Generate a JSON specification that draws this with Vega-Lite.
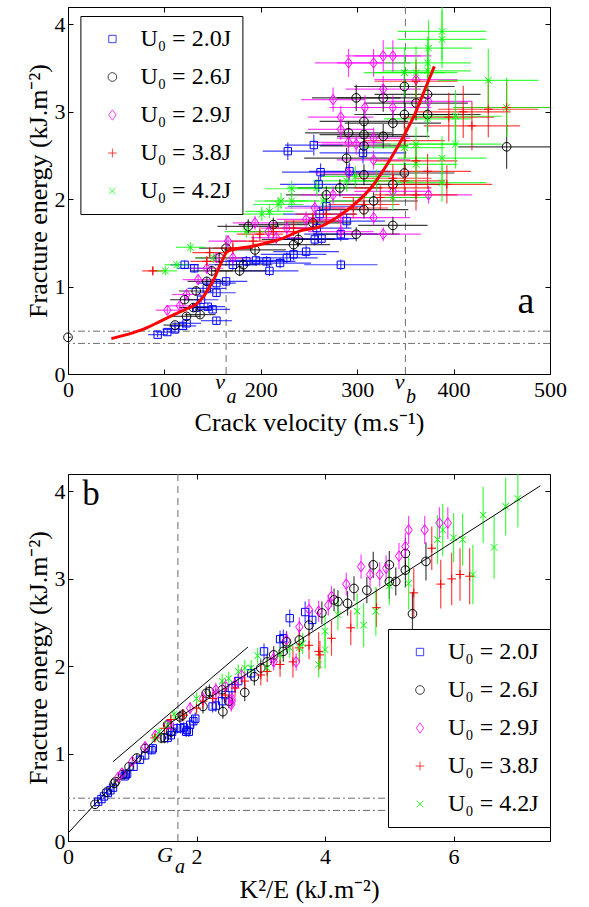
{
  "$schema": "https://vega.github.io/schema/vega-lite/v6.json",
  "background": "white",
  "padding": {"left": 24, "top": 6, "right": 5, "bottom": 2},
  "spacing": 37,
  "datasets": {
    "pts": [
      {"s":"2.0","v":93,"k":0.47,"g":0.45,"ev":10,"eg":0.03},
      {"s":"2.0","v":103,"k":0.52,"g":0.48,"ev":12,"eg":0.03},
      {"s":"2.0","v":111,"k":0.56,"g":0.51,"ev":13,"eg":0.03},
      {"s":"2.0","v":119,"k":0.62,"g":0.55,"ev":14,"eg":0.03},
      {"s":"2.0","v":123,"k":0.66,"g":0.58,"ev":15,"eg":0.04},
      {"s":"2.0","v":154,"k":0.70,"g":0.61,"ev":16,"eg":0.04},
      {"s":"2.0","v":133,"k":0.90,"g":0.76,"ev":16,"eg":0.04},
      {"s":"2.0","v":145,"k":0.92,"g":0.77,"ev":18,"eg":0.04},
      {"s":"2.0","v":150,"k":0.88,"g":0.74,"ev":18,"eg":0.04},
      {"s":"2.0","v":138,"k":1.02,"g":0.85,"ev":18,"eg":0.05},
      {"s":"2.0","v":154,"k":1.12,"g":0.93,"ev":20,"eg":0.05},
      {"s":"2.0","v":144,"k":1.20,"g":0.98,"ev":20,"eg":0.05},
      {"s":"2.0","v":164,"k":1.32,"g":1.06,"ev":22,"eg":0.05},
      {"s":"2.0","v":154,"k":1.30,"g":1.04,"ev":20,"eg":0.05},
      {"s":"2.0","v":121,"k":1.62,"g":1.25,"ev":15,"eg":0.05},
      {"s":"2.0","v":131,"k":1.60,"g":1.21,"ev":18,"eg":0.05},
      {"s":"2.0","v":171,"k":1.84,"g":1.25,"ev":25,"eg":0.06},
      {"s":"2.0","v":185,"k":1.75,"g":1.29,"ev":28,"eg":0.06},
      {"s":"2.0","v":195,"k":1.80,"g":1.30,"ev":30,"eg":0.06},
      {"s":"2.0","v":206,"k":1.70,"g":1.29,"ev":30,"eg":0.06},
      {"s":"2.0","v":209,"k":1.55,"g":1.18,"ev":30,"eg":0.06},
      {"s":"2.0","v":220,"k":1.85,"g":1.27,"ev":32,"eg":0.06},
      {"s":"2.0","v":227,"k":1.90,"g":1.33,"ev":32,"eg":0.06},
      {"s":"2.0","v":234,"k":1.95,"g":1.37,"ev":34,"eg":0.07},
      {"s":"2.0","v":247,"k":1.98,"g":1.40,"ev":34,"eg":0.07},
      {"s":"2.0","v":256,"k":2.25,"g":1.54,"ev":35,"eg":0.07},
      {"s":"2.0","v":263,"k":2.30,"g":1.55,"ev":36,"eg":0.07},
      {"s":"2.0","v":258,"k":2.45,"g":1.67,"ev":36,"eg":0.08},
      {"s":"2.0","v":283,"k":1.88,"g":1.25,"ev":38,"eg":0.06},
      {"s":"2.0","v":283,"k":2.40,"g":1.60,"ev":38,"eg":0.08},
      {"s":"2.0","v":289,"k":2.55,"g":1.75,"ev":40,"eg":0.08},
      {"s":"2.0","v":261,"k":2.65,"g":1.83,"ev":38,"eg":0.08},
      {"s":"2.0","v":268,"k":2.85,"g":1.92,"ev":40,"eg":0.09},
      {"s":"2.0","v":262,"k":3.30,"g":2.31,"ev":40,"eg":0.10},
      {"s":"2.0","v":228,"k":3.45,"g":2.55,"ev":26,"eg":0.10},
      {"s":"2.0","v":255,"k":3.69,"g":2.62,"ev":30,"eg":0.12},
      {"s":"2.0","v":306,"k":3.80,"g":2.53,"ev":45,"eg":0.12},
      {"s":"2.0","v":292,"k":3.35,"g":2.32,"ev":42,"eg":0.10},
      {"s":"2.0","v":260,"k":3.05,"g":2.17,"ev":40,"eg":0.09},
      {"s":"2.6","v":0,"k":0.42,"g":0.42,"ev":3,"eg":0.03},
      {"s":"2.6","v":111,"k":0.60,"g":0.56,"ev":12,"eg":0.03},
      {"s":"2.6","v":123,"k":0.72,"g":0.66,"ev":14,"eg":0.04},
      {"s":"2.6","v":137,"k":0.74,"g":0.68,"ev":16,"eg":0.04},
      {"s":"2.6","v":130,"k":0.85,"g":0.76,"ev":15,"eg":0.04},
      {"s":"2.6","v":121,"k":0.95,"g":0.85,"ev":15,"eg":0.05},
      {"s":"2.6","v":133,"k":1.07,"g":0.95,"ev":18,"eg":0.05},
      {"s":"2.6","v":144,"k":1.20,"g":1.06,"ev":20,"eg":0.05},
      {"s":"2.6","v":149,"k":1.45,"g":1.18,"ev":22,"eg":0.06},
      {"s":"2.6","v":157,"k":1.55,"g":1.33,"ev":25,"eg":0.06},
      {"s":"2.6","v":164,"k":1.78,"g":1.44,"ev":28,"eg":0.07},
      {"s":"2.6","v":178,"k":1.50,"g":1.18,"ev":28,"eg":0.06},
      {"s":"2.6","v":182,"k":1.60,"g":1.25,"ev":30,"eg":0.06},
      {"s":"2.6","v":194,"k":1.74,"g":1.42,"ev":32,"eg":0.07},
      {"s":"2.6","v":187,"k":2.15,"g":1.69,"ev":32,"eg":0.08},
      {"s":"2.6","v":213,"k":2.20,"g":1.71,"ev":36,"eg":0.08},
      {"s":"2.6","v":234,"k":2.41,"g":1.48,"ev":38,"eg":0.08},
      {"s":"2.6","v":239,"k":2.10,"g":1.54,"ev":38,"eg":0.08},
      {"s":"2.6","v":254,"k":2.40,"g":1.73,"ev":40,"eg":0.09},
      {"s":"2.6","v":268,"k":3.10,"g":2.05,"ev":42,"eg":0.10},
      {"s":"2.6","v":282,"k":3.20,"g":2.13,"ev":44,"eg":0.10},
      {"s":"2.6","v":289,"k":3.75,"g":2.47,"ev":44,"eg":0.12},
      {"s":"2.6","v":291,"k":4.14,"g":2.76,"ev":45,"eg":0.13},
      {"s":"2.6","v":299,"k":2.50,"g":1.60,"ev":45,"eg":0.08},
      {"s":"2.6","v":299,"k":4.75,"g":3.16,"ev":46,"eg":0.15},
      {"s":"2.6","v":307,"k":4.45,"g":2.89,"ev":46,"eg":0.14},
      {"s":"2.6","v":307,"k":4.20,"g":2.74,"ev":46,"eg":0.13},
      {"s":"2.6","v":307,"k":3.95,"g":2.61,"ev":46,"eg":0.13},
      {"s":"2.6","v":307,"k":3.40,"g":2.28,"ev":46,"eg":0.12},
      {"s":"2.6","v":307,"k":2.90,"g":1.88,"ev":46,"eg":0.10},
      {"s":"2.6","v":327,"k":4.35,"g":2.72,"ev":48,"eg":0.14},
      {"s":"2.6","v":327,"k":5.00,"g":3.16,"ev":48,"eg":0.16},
      {"s":"2.6","v":337,"k":4.65,"g":2.87,"ev":50,"eg":0.15},
      {"s":"2.6","v":337,"k":3.35,"g":2.17,"ev":50,"eg":0.12},
      {"s":"2.6","v":337,"k":2.75,"g":1.70,"ev":36,"eg":0.10},
      {"s":"2.6","v":349,"k":5.25,"g":3.29,"ev":52,"eg":0.18},
      {"s":"2.6","v":349,"k":5.10,"g":2.97,"ev":52,"eg":0.16},
      {"s":"2.6","v":349,"k":3.60,"g":2.30,"ev":52,"eg":0.12},
      {"s":"2.6","v":361,"k":5.25,"g":3.10,"ev":54,"eg":0.20},
      {"s":"2.6","v":373,"k":5.57,"g":3.20,"ev":55,"eg":0.22},
      {"s":"2.6","v":373,"k":5.00,"g":2.97,"ev":55,"eg":0.20},
      {"s":"2.6","v":455,"k":5.36,"g":2.60,"ev":50,"eg":0.25},
      {"s":"2.6","v":317,"k":3.00,"g":1.98,"ev":46,"eg":0.10},
      {"s":"2.9","v":103,"k":0.78,"g":0.73,"ev":12,"eg":0.05},
      {"s":"2.9","v":116,"k":0.84,"g":0.78,"ev":14,"eg":0.05},
      {"s":"2.9","v":123,"k":1.00,"g":0.91,"ev":15,"eg":0.05},
      {"s":"2.9","v":135,"k":1.20,"g":1.08,"ev":16,"eg":0.06},
      {"s":"2.9","v":144,"k":1.36,"g":1.21,"ev":17,"eg":0.06},
      {"s":"2.9","v":154,"k":1.55,"g":1.33,"ev":18,"eg":0.06},
      {"s":"2.9","v":166,"k":1.90,"g":1.52,"ev":20,"eg":0.07},
      {"s":"2.9","v":171,"k":1.60,"g":1.33,"ev":20,"eg":0.06},
      {"s":"2.9","v":194,"k":2.30,"g":1.73,"ev":23,"eg":0.08},
      {"s":"2.9","v":208,"k":2.10,"g":1.63,"ev":25,"eg":0.08},
      {"s":"2.9","v":216,"k":2.54,"g":1.56,"ev":26,"eg":0.08},
      {"s":"2.9","v":227,"k":2.30,"g":1.67,"ev":27,"eg":0.08},
      {"s":"2.9","v":247,"k":2.45,"g":1.77,"ev":30,"eg":0.09},
      {"s":"2.9","v":256,"k":2.70,"g":1.90,"ev":31,"eg":0.09},
      {"s":"2.9","v":275,"k":3.55,"g":2.05,"ev":33,"eg":0.10},
      {"s":"2.9","v":283,"k":2.60,"g":1.79,"ev":34,"eg":0.09},
      {"s":"2.9","v":283,"k":2.55,"g":1.63,"ev":34,"eg":0.08},
      {"s":"2.9","v":291,"k":3.40,"g":2.30,"ev":35,"eg":0.10},
      {"s":"2.9","v":291,"k":3.75,"g":2.65,"ev":35,"eg":0.12},
      {"s":"2.9","v":299,"k":3.90,"g":2.63,"ev":36,"eg":0.12},
      {"s":"2.9","v":283,"k":4.10,"g":2.80,"ev":34,"eg":0.12},
      {"s":"2.9","v":283,"k":4.33,"g":2.94,"ev":34,"eg":0.13},
      {"s":"2.9","v":275,"k":4.56,"g":3.14,"ev":33,"eg":0.14},
      {"s":"2.9","v":291,"k":5.55,"g":3.56,"ev":35,"eg":0.16},
      {"s":"2.9","v":317,"k":5.30,"g":3.56,"ev":38,"eg":0.16},
      {"s":"2.9","v":327,"k":5.78,"g":3.64,"ev":39,"eg":0.18},
      {"s":"2.9","v":337,"k":5.91,"g":3.64,"ev":40,"eg":0.18},
      {"s":"2.9","v":308,"k":4.70,"g":3.05,"ev":37,"eg":0.14},
      {"s":"2.9","v":317,"k":4.05,"g":2.70,"ev":38,"eg":0.12},
      {"s":"2.9","v":317,"k":3.60,"g":2.45,"ev":38,"eg":0.11},
      {"s":"2.9","v":327,"k":5.15,"g":3.26,"ev":39,"eg":0.15},
      {"s":"2.9","v":327,"k":2.55,"g":1.60,"ev":39,"eg":0.08},
      {"s":"2.9","v":317,"k":2.60,"g":1.79,"ev":38,"eg":0.09},
      {"s":"2.9","v":337,"k":4.85,"g":3.05,"ev":40,"eg":0.14},
      {"s":"2.9","v":337,"k":3.20,"g":2.09,"ev":40,"eg":0.10},
      {"s":"2.9","v":361,"k":5.25,"g":3.37,"ev":43,"eg":0.16},
      {"s":"2.9","v":374,"k":4.95,"g":3.12,"ev":45,"eg":0.15},
      {"s":"2.9","v":374,"k":3.20,"g":2.05,"ev":45,"eg":0.10},
      {"s":"3.8","v":88,"k":1.35,"g":1.18,"ev":11,"eg":0.05},
      {"s":"3.8","v":144,"k":1.50,"g":1.29,"ev":17,"eg":0.06},
      {"s":"3.8","v":147,"k":1.60,"g":1.39,"ev":18,"eg":0.06},
      {"s":"3.8","v":171,"k":1.80,"g":1.44,"ev":20,"eg":0.07},
      {"s":"3.8","v":192,"k":2.00,"g":1.52,"ev":23,"eg":0.07},
      {"s":"3.8","v":199,"k":2.10,"g":1.60,"ev":24,"eg":0.08},
      {"s":"3.8","v":213,"k":2.25,"g":1.63,"ev":26,"eg":0.08},
      {"s":"3.8","v":234,"k":2.45,"g":1.67,"ev":28,"eg":0.09},
      {"s":"3.8","v":254,"k":2.60,"g":1.75,"ev":30,"eg":0.10},
      {"s":"3.8","v":268,"k":2.75,"g":1.83,"ev":32,"eg":0.10},
      {"s":"3.8","v":296,"k":3.00,"g":1.90,"ev":36,"eg":0.12},
      {"s":"3.8","v":307,"k":3.10,"g":1.94,"ev":37,"eg":0.12},
      {"s":"3.8","v":324,"k":3.30,"g":2.02,"ev":39,"eg":0.14},
      {"s":"3.8","v":337,"k":3.75,"g":2.24,"ev":40,"eg":0.16},
      {"s":"3.8","v":337,"k":3.92,"g":2.13,"ev":40,"eg":0.16},
      {"s":"3.8","v":349,"k":3.60,"g":2.21,"ev":42,"eg":0.17},
      {"s":"3.8","v":361,"k":4.40,"g":2.44,"ev":43,"eg":0.20},
      {"s":"3.8","v":361,"k":3.50,"g":2.05,"ev":43,"eg":0.18},
      {"s":"3.8","v":373,"k":4.10,"g":2.32,"ev":45,"eg":0.20},
      {"s":"3.8","v":393,"k":3.90,"g":2.17,"ev":47,"eg":0.22},
      {"s":"3.8","v":419,"k":5.38,"g":2.84,"ev":50,"eg":0.28},
      {"s":"3.8","v":436,"k":6.25,"g":3.03,"ev":52,"eg":0.32},
      {"s":"3.8","v":455,"k":6.10,"g":3.05,"ev":55,"eg":0.30},
      {"s":"3.8","v":361,"k":5.66,"g":3.35,"ev":43,"eg":0.25},
      {"s":"3.8","v":349,"k":4.80,"g":2.67,"ev":42,"eg":0.22},
      {"s":"3.8","v":395,"k":5.80,"g":2.94,"ev":47,"eg":0.28},
      {"s":"3.8","v":410,"k":5.97,"g":3.00,"ev":49,"eg":0.30},
      {"s":"4.2","v":101,"k":1.35,"g":1.18,"ev":12,"eg":0.05},
      {"s":"4.2","v":113,"k":1.42,"g":1.25,"ev":13,"eg":0.05},
      {"s":"4.2","v":127,"k":1.65,"g":1.45,"ev":15,"eg":0.06},
      {"s":"4.2","v":151,"k":1.55,"g":1.33,"ev":18,"eg":0.06},
      {"s":"4.2","v":185,"k":2.00,"g":1.63,"ev":22,"eg":0.07},
      {"s":"4.2","v":201,"k":2.40,"g":1.83,"ev":24,"eg":0.08},
      {"s":"4.2","v":209,"k":2.50,"g":1.86,"ev":25,"eg":0.08},
      {"s":"4.2","v":218,"k":2.65,"g":1.94,"ev":26,"eg":0.08},
      {"s":"4.2","v":221,"k":2.75,"g":1.98,"ev":27,"eg":0.09},
      {"s":"4.2","v":232,"k":2.95,"g":2.12,"ev":28,"eg":0.09},
      {"s":"4.2","v":232,"k":2.85,"g":1.98,"ev":28,"eg":0.09},
      {"s":"4.2","v":258,"k":3.30,"g":2.13,"ev":31,"eg":0.10},
      {"s":"4.2","v":265,"k":3.10,"g":1.98,"ev":32,"eg":0.10},
      {"s":"4.2","v":289,"k":3.45,"g":2.21,"ev":35,"eg":0.12},
      {"s":"4.2","v":298,"k":3.65,"g":2.26,"ev":36,"eg":0.12},
      {"s":"4.2","v":320,"k":3.60,"g":2.21,"ev":38,"eg":0.13},
      {"s":"4.2","v":337,"k":3.90,"g":2.02,"ev":40,"eg":0.15},
      {"s":"4.2","v":349,"k":4.20,"g":2.59,"ev":42,"eg":0.18},
      {"s":"4.2","v":361,"k":4.00,"g":2.40,"ev":43,"eg":0.18},
      {"s":"4.2","v":361,"k":4.50,"g":2.63,"ev":43,"eg":0.20},
      {"s":"4.2","v":373,"k":5.00,"g":2.92,"ev":45,"eg":0.22},
      {"s":"4.2","v":373,"k":6.00,"g":3.47,"ev":45,"eg":0.28},
      {"s":"4.2","v":373,"k":5.83,"g":3.56,"ev":45,"eg":0.30},
      {"s":"4.2","v":374,"k":6.46,"g":3.73,"ev":45,"eg":0.32},
      {"s":"4.2","v":388,"k":6.81,"g":3.83,"ev":46,"eg":0.33},
      {"s":"4.2","v":388,"k":7.00,"g":3.92,"ev":46,"eg":0.33},
      {"s":"4.2","v":349,"k":5.75,"g":3.45,"ev":42,"eg":0.28},
      {"s":"4.2","v":361,"k":6.14,"g":3.45,"ev":43,"eg":0.30},
      {"s":"4.2","v":402,"k":5.30,"g":2.95,"ev":48,"eg":0.30},
      {"s":"4.2","v":402,"k":4.79,"g":2.63,"ev":48,"eg":0.28},
      {"s":"4.2","v":388,"k":4.60,"g":2.47,"ev":46,"eg":0.25},
      {"s":"4.2","v":388,"k":4.00,"g":2.19,"ev":46,"eg":0.22},
      {"s":"4.2","v":436,"k":6.63,"g":3.36,"ev":52,"eg":0.36},
      {"s":"4.2","v":455,"k":6.30,"g":3.05,"ev":55,"eg":0.34}
    ],
    "curve": [
      {"v":45,"g":0.405},{"v":67,"g":0.47},{"v":82,"g":0.53},{"v":95,"g":0.60},
      {"v":110,"g":0.68},{"v":122,"g":0.74},{"v":133,"g":0.80},{"v":140,"g":0.88},
      {"v":147,"g":1.0},{"v":152,"g":1.1},{"v":157,"g":1.23},{"v":161,"g":1.32},
      {"v":164,"g":1.39},{"v":171,"g":1.425},{"v":190,"g":1.46},{"v":206,"g":1.50},
      {"v":222,"g":1.55},{"v":240,"g":1.635},{"v":260,"g":1.68},{"v":280,"g":1.80},
      {"v":300,"g":1.97},{"v":315,"g":2.14},{"v":330,"g":2.38},{"v":342,"g":2.60},
      {"v":351,"g":2.78},{"v":360,"g":2.98},{"v":370,"g":3.25},{"v":380,"g":3.52}
    ],
    "fit": [
      {"id":"m","k":0,"g":0.09},{"id":"m","k":1.6,"g":1.355},{"id":"m","k":7.35,"g":4.065},
      {"id":"t","k":0.7,"g":0.907},{"id":"t","k":2.8,"g":2.22}
    ]
  },
  "resolve": {
    "scale": {"color": "independent", "shape": "independent"},
    "legend": {"color": "independent", "shape": "independent"}
  },
  "vconcat": [
    {
      "width": 482,
      "height": 367,
      "resolve": {"axis": {"x": "independent", "y": "independent"}},
      "layer": [
        {
          "data": {"values": [{}]},
          "mark": {"type": "point", "opacity": 0},
          "encoding": {
            "x": {"datum": 0, "type": "quantitative", "scale": {"domain": [0, 500], "nice": false, "zero": false},
              "axis": {"orient": "bottom", "values": [0, 100, 200, 300, 400, 500], "title": "Crack velocity (m.s⁻¹)", "titlePadding": 9, "labelFont": "Liberation Serif", "titleFont": "Liberation Serif"}},
            "y": {"datum": 0, "type": "quantitative", "scale": {"domain": [0, 4.2], "nice": false, "zero": false},
              "axis": {"orient": "left", "values": [0, 1, 2, 3, 4], "title": "Fracture energy (kJ.m⁻²)", "labelPadding": 8, "titlePadding": 3, "labelFont": "Liberation Serif", "titleFont": "Liberation Serif"}}
          }
        },
        {
          "data": {"values": [{}]},
          "mark": {"type": "point", "opacity": 0},
          "encoding": {
            "x": {"datum": 0, "type": "quantitative", "scale": {"domain": [0, 500], "nice": false, "zero": false},
              "axis": {"orient": "top", "values": [0, 100, 200, 300, 400, 500], "labels": false, "title": null}},
            "y": {"datum": 0, "type": "quantitative", "scale": {"domain": [0, 4.2], "nice": false, "zero": false},
              "axis": {"orient": "right", "values": [0, 1, 2, 3, 4], "labels": false, "title": null}}
          }
        },
        {
          "data": {"values": [{"g": 0.49}, {"g": 0.35}]},
          "mark": {"type": "rule", "color": "#6e6e6e", "strokeWidth": 1, "strokeDash": [7, 3, 2, 3]},
          "encoding": {"y": {"field": "g", "type": "quantitative", "scale": {"domain": [0, 4.2], "nice": false, "zero": false}, "axis": null}}
        },
        {
          "data": {"values": [{"v": 350}]},
          "mark": {"type": "rule", "color": "#6e6e6e", "strokeWidth": 1, "strokeDash": [7, 5]},
          "encoding": {"x": {"field": "v", "type": "quantitative", "scale": {"domain": [0, 500], "nice": false, "zero": false}, "axis": null}}
        },
        {
          "data": {"values": [{"v": 164, "g0": 0, "g1": 1.72}]},
          "mark": {"type": "rule", "color": "#6e6e6e", "strokeWidth": 1, "strokeDash": [7, 5]},
          "encoding": {
            "x": {"field": "v", "type": "quantitative", "scale": {"domain": [0, 500], "nice": false, "zero": false}, "axis": null},
            "y": {"field": "g0", "type": "quantitative", "scale": {"domain": [0, 4.2], "nice": false, "zero": false}, "axis": null},
            "y2": {"field": "g1"}
          }
        },
        {
          "data": {"name": "pts"},
          "mark": {"type": "errorbar", "ticks": false, "clip": true, "rule": {"strokeWidth": 1.2, "opacity": 0.75}},
          "encoding": {
            "x": {"field": "v", "type": "quantitative", "scale": {"domain": [0, 500], "nice": false, "zero": false}, "axis": null},
            "xError": {"field": "ev"},
            "y": {"field": "g", "type": "quantitative", "scale": {"domain": [0, 4.2], "nice": false, "zero": false}, "axis": null},
            "color": {"field": "s", "type": "nominal", "scale": {"domain": ["2.0", "2.6", "2.9", "3.8", "4.2"], "range": ["#0000ff", "#000000", "#ff00ff", "#ff0000", "#00ff00"]}}
          }
        },
        {
          "data": {"name": "pts"},
          "mark": {"type": "errorbar", "ticks": false, "clip": true, "rule": {"strokeWidth": 1.2, "opacity": 0.75}},
          "encoding": {
            "y": {"field": "g", "type": "quantitative", "scale": {"domain": [0, 4.2], "nice": false, "zero": false}, "axis": null},
            "yError": {"field": "eg"},
            "x": {"field": "v", "type": "quantitative", "scale": {"domain": [0, 500], "nice": false, "zero": false}, "axis": null},
            "color": {"field": "s", "type": "nominal", "scale": {"domain": ["2.0", "2.6", "2.9", "3.8", "4.2"], "range": ["#0000ff", "#000000", "#ff00ff", "#ff0000", "#00ff00"]}}
          }
        },
        {
          "data": {"name": "pts"},
          "mark": {"type": "point", "filled": false, "size": 75, "strokeWidth": 1, "opacity": 1},
          "encoding": {
            "x": {"field": "v", "type": "quantitative", "scale": {"domain": [0, 500], "nice": false, "zero": false}, "axis": null},
            "y": {"field": "g", "type": "quantitative", "scale": {"domain": [0, 4.2], "nice": false, "zero": false}, "axis": null},
            "color": {"field": "s", "type": "nominal", "scale": {"domain": ["2.0", "2.6", "2.9", "3.8", "4.2"], "range": ["#0000ff", "#000000", "#ff00ff", "#ff0000", "#00ff00"]},
              "legend": {"title": null, "orient": "none", "legendX": 12.4, "legendY": 9, "direction": "vertical", "labelExpr": "'U₀ = ' + datum.label + 'J'"}},
            "shape": {"field": "s", "type": "nominal", "scale": {"domain": ["2.0", "2.6", "2.9", "3.8", "4.2"], "range": ["M-0.85,-0.85H0.85V0.85H-0.85Z", "circle", "M0,-1.2L0.85,0L0,1.2L-0.85,0Z", "M-1,0H1M0,-1V1", "M-0.75,-0.75L0.75,0.75M-0.75,0.75L0.75,-0.75"]},
              "legend": {"title": null, "orient": "none", "legendX": 12.4, "legendY": 9, "direction": "vertical", "labelExpr": "'U₀ = ' + datum.label + 'J'"}}
          }
        },
        {
          "data": {"name": "curve"},
          "mark": {"type": "line", "color": "#ff0000", "strokeWidth": 3, "interpolate": "monotone"},
          "encoding": {
            "x": {"field": "v", "type": "quantitative", "scale": {"domain": [0, 500], "nice": false, "zero": false}, "axis": null},
            "y": {"field": "g", "type": "quantitative", "scale": {"domain": [0, 4.2], "nice": false, "zero": false}, "axis": null}
          }
        },
        {
          "data": {"values": [{"v": 164, "t": "v"}, {"v": 350, "t": "v"}]},
          "mark": {"type": "text", "font": "Liberation Serif", "fontStyle": "italic", "fontSize": 22, "align": "right", "baseline": "alphabetic", "dx": -1, "dy": 14.5, "color": "black"},
          "encoding": {
            "x": {"field": "v", "type": "quantitative", "scale": {"domain": [0, 500], "nice": false, "zero": false}, "axis": null},
            "y": {"datum": 0, "type": "quantitative", "scale": {"domain": [0, 4.2], "nice": false, "zero": false}, "axis": null},
            "text": {"field": "t"}
          }
        },
        {
          "data": {"values": [{"v": 164, "t": "a"}, {"v": 350, "t": "b"}]},
          "mark": {"type": "text", "font": "Liberation Serif", "fontStyle": "italic", "fontSize": 20, "align": "left", "baseline": "alphabetic", "dx": 0.5, "dy": 29, "color": "black"},
          "encoding": {
            "x": {"field": "v", "type": "quantitative", "scale": {"domain": [0, 500], "nice": false, "zero": false}, "axis": null},
            "y": {"datum": 0, "type": "quantitative", "scale": {"domain": [0, 4.2], "nice": false, "zero": false}, "axis": null},
            "text": {"field": "t"}
          }
        },
        {
          "data": {"values": [{"v": 475, "g": 0.695, "t": "a"}]},
          "mark": {"type": "text", "font": "Liberation Serif", "fontSize": 38, "align": "center", "baseline": "alphabetic", "color": "black"},
          "encoding": {
            "x": {"field": "v", "type": "quantitative", "scale": {"domain": [0, 500], "nice": false, "zero": false}, "axis": null},
            "y": {"field": "g", "type": "quantitative", "scale": {"domain": [0, 4.2], "nice": false, "zero": false}, "axis": null},
            "text": {"field": "t"}
          }
        }
      ]
    },
    {
      "width": 482,
      "height": 367,
      "resolve": {"axis": {"x": "independent", "y": "independent"}},
      "layer": [
        {
          "data": {"values": [{}]},
          "mark": {"type": "point", "opacity": 0},
          "encoding": {
            "x": {"datum": 0, "type": "quantitative", "scale": {"domain": [0, 7.5], "nice": false, "zero": false},
              "axis": {"orient": "bottom", "values": [0, 2, 4, 6], "title": "K²/E (kJ.m⁻²)", "titlePadding": 9, "labelFont": "Liberation Serif", "titleFont": "Liberation Serif"}},
            "y": {"datum": 0, "type": "quantitative", "scale": {"domain": [0, 4.2], "nice": false, "zero": false},
              "axis": {"orient": "left", "values": [0, 1, 2, 3, 4], "title": "Fracture energy (kJ.m⁻²)", "labelPadding": 8, "titlePadding": 3, "labelFont": "Liberation Serif", "titleFont": "Liberation Serif"}}
          }
        },
        {
          "data": {"values": [{}]},
          "mark": {"type": "point", "opacity": 0},
          "encoding": {
            "x": {"datum": 0, "type": "quantitative", "scale": {"domain": [0, 7.5], "nice": false, "zero": false},
              "axis": {"orient": "top", "values": [0, 2, 4, 6], "labels": false, "title": null}},
            "y": {"datum": 0, "type": "quantitative", "scale": {"domain": [0, 4.2], "nice": false, "zero": false},
              "axis": {"orient": "right", "values": [0, 1, 2, 3, 4], "labels": false, "title": null}}
          }
        },
        {
          "data": {"values": [{"g": 0.49}, {"g": 0.35}]},
          "mark": {"type": "rule", "color": "#6e6e6e", "strokeWidth": 1, "strokeDash": [7, 3, 2, 3]},
          "encoding": {"y": {"field": "g", "type": "quantitative", "scale": {"domain": [0, 4.2], "nice": false, "zero": false}, "axis": null}}
        },
        {
          "data": {"values": [{"k": 1.71}]},
          "mark": {"type": "rule", "color": "#6e6e6e", "strokeWidth": 1, "strokeDash": [7, 5]},
          "encoding": {"x": {"field": "k", "type": "quantitative", "scale": {"domain": [0, 7.5], "nice": false, "zero": false}, "axis": null}}
        },
        {
          "data": {"name": "pts"},
          "mark": {"type": "errorbar", "ticks": false, "clip": true, "rule": {"strokeWidth": 1.2, "opacity": 0.75}},
          "encoding": {
            "y": {"field": "g", "type": "quantitative", "scale": {"domain": [0, 4.2], "nice": false, "zero": false}, "axis": null},
            "yError": {"field": "eg"},
            "x": {"field": "k", "type": "quantitative", "scale": {"domain": [0, 7.5], "nice": false, "zero": false}, "axis": null},
            "color": {"field": "s", "type": "nominal", "scale": {"domain": ["2.0", "2.6", "2.9", "3.8", "4.2"], "range": ["#0000ff", "#000000", "#ff00ff", "#ff0000", "#00ff00"]}}
          }
        },
        {
          "data": {"name": "pts"},
          "mark": {"type": "point", "filled": false, "size": 75, "strokeWidth": 1, "opacity": 1},
          "encoding": {
            "x": {"field": "k", "type": "quantitative", "scale": {"domain": [0, 7.5], "nice": false, "zero": false}, "axis": null},
            "y": {"field": "g", "type": "quantitative", "scale": {"domain": [0, 4.2], "nice": false, "zero": false}, "axis": null},
            "color": {"field": "s", "type": "nominal", "scale": {"domain": ["2.0", "2.6", "2.9", "3.8", "4.2"], "range": ["#0000ff", "#000000", "#ff00ff", "#ff0000", "#00ff00"]},
              "legend": {"title": null, "orient": "none", "legendX": 320, "legendY": 155, "direction": "vertical", "labelExpr": "'U₀ = ' + datum.label + 'J'"}},
            "shape": {"field": "s", "type": "nominal", "scale": {"domain": ["2.0", "2.6", "2.9", "3.8", "4.2"], "range": ["M-0.85,-0.85H0.85V0.85H-0.85Z", "circle", "M0,-1.2L0.85,0L0,1.2L-0.85,0Z", "M-1,0H1M0,-1V1", "M-0.75,-0.75L0.75,0.75M-0.75,0.75L0.75,-0.75"]},
              "legend": {"title": null, "orient": "none", "legendX": 320, "legendY": 155, "direction": "vertical", "labelExpr": "'U₀ = ' + datum.label + 'J'"}}
          }
        },
        {
          "data": {"name": "fit"},
          "mark": {"type": "line", "color": "black", "strokeWidth": 1},
          "encoding": {
            "x": {"field": "k", "type": "quantitative", "scale": {"domain": [0, 7.5], "nice": false, "zero": false}, "axis": null},
            "y": {"field": "g", "type": "quantitative", "scale": {"domain": [0, 4.2], "nice": false, "zero": false}, "axis": null},
            "detail": {"field": "id"}
          }
        },
        {
          "data": {"values": [{"k": 1.71, "t": "G"}]},
          "mark": {"type": "text", "font": "Liberation Serif", "fontStyle": "italic", "fontSize": 22, "align": "right", "baseline": "alphabetic", "dx": -5, "dy": 20.5, "color": "black"},
          "encoding": {
            "x": {"field": "k", "type": "quantitative", "scale": {"domain": [0, 7.5], "nice": false, "zero": false}, "axis": null},
            "y": {"datum": 0, "type": "quantitative", "scale": {"domain": [0, 4.2], "nice": false, "zero": false}, "axis": null},
            "text": {"field": "t"}
          }
        },
        {
          "data": {"values": [{"k": 1.71, "t": "a"}]},
          "mark": {"type": "text", "font": "Liberation Serif", "fontStyle": "italic", "fontSize": 20, "align": "left", "baseline": "alphabetic", "dx": -3, "dy": 32, "color": "black"},
          "encoding": {
            "x": {"field": "k", "type": "quantitative", "scale": {"domain": [0, 7.5], "nice": false, "zero": false}, "axis": null},
            "y": {"datum": 0, "type": "quantitative", "scale": {"domain": [0, 4.2], "nice": false, "zero": false}, "axis": null},
            "text": {"field": "t"}
          }
        },
        {
          "data": {"values": [{"k": 0.22, "g": 3.84, "t": "b"}]},
          "mark": {"type": "text", "font": "Liberation Serif", "fontSize": 35, "align": "left", "baseline": "alphabetic", "color": "black"},
          "encoding": {
            "x": {"field": "k", "type": "quantitative", "scale": {"domain": [0, 7.5], "nice": false, "zero": false}, "axis": null},
            "y": {"field": "g", "type": "quantitative", "scale": {"domain": [0, 4.2], "nice": false, "zero": false}, "axis": null},
            "text": {"field": "t"}
          }
        }
      ]
    }
  ],
  "config": {
    "view": {"stroke": "black", "strokeWidth": 1},
    "font": "Liberation Serif",
    "style": {"guide-label": {"font": "Liberation Serif"}, "guide-title": {"font": "Liberation Serif"}},
    "axis": {
      "labelFont": "Liberation Serif", "titleFont": "Liberation Serif",
      "labelFontSize": 22, "titleFontSize": 26, "titleFontWeight": "normal",
      "labelColor": "black", "titleColor": "black", "tickColor": "black",
      "tickSize": -5, "tickWidth": 1, "domain": false, "grid": false,
      "labelPadding": 10, "labelFlush": false, "labelOverlap": false
    },
    "legend": {
      "labelFont": "Liberation Serif", "labelFontSize": 24, "labelColor": "black",
      "strokeColor": "black", "fillColor": "white", "padding": 11,
      "symbolOffset": 9, "labelOffset": 16, "rowPadding": 14,
      "symbolStrokeWidth": 1, "symbolSize": 75, "labelLimit": 300
    }
  }
}
